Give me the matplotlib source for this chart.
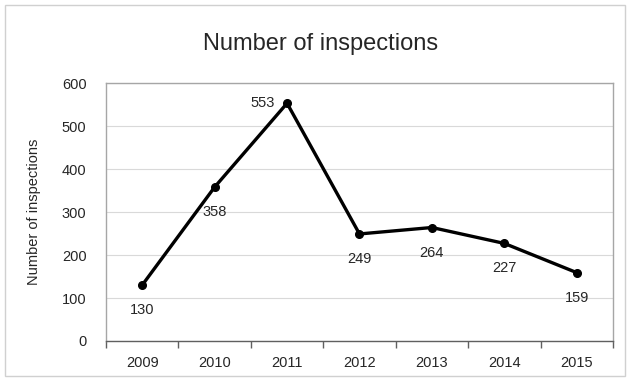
import matplotlib.pyplot as plt
from matplotlib.patches import Rectangle

years = ['2009', '2010', '2011', '2012', '2013', '2014', '2015']
inspections = [130, 358, 553, 249, 264, 227, 159]
y_ticks = [0, 100, 200, 300, 400, 500, 600]

plt.rcParams['font.family'] = ['Liberation Sans', 'DejaVu Sans']
text_color = '#262626'

fig = plt.figure(figsize=(6.29, 3.81), dpi=100)
fig.patches.append(Rectangle((0.008, 0.012), 0.986, 0.975, transform=fig.transFigure,
                             fill=False, edgecolor='#d0d0d0', linewidth=1))
ax = fig.add_axes([0.1685, 0.105, 0.806, 0.677])

x = list(range(len(years)))
ax.plot(x, inspections, 'o-', color='black', linewidth=2.4, markersize=5.5)

# value labels: the peak sits to the left, the rest below the point
for i, v in enumerate(inspections):
    if i == 2:
        ax.annotate(str(v), (i, v), xytext=(-9, 0), textcoords='offset points',
                    ha='right', va='center', fontsize=10.5, color=text_color)
    else:
        ax.annotate(str(v), (i, v), xytext=(0, -13), textcoords='offset points',
                    ha='center', va='top', fontsize=10.5, color=text_color)

ax.set_xlim(-0.5, len(years) - 0.5)
ax.set_ylim(0, 600)
ax.set_yticks(y_ticks)
ax.set_yticklabels([str(t) for t in y_ticks], fontsize=10.5, color=text_color)
ax.set_xticks(x)
ax.set_xticklabels(years, fontsize=10.5, color=text_color)
ax.set_xticks([i - 0.5 for i in range(len(years) + 1)], minor=True)
ax.tick_params(axis='x', which='major', length=0, pad=11)
ax.tick_params(axis='x', which='minor', length=5, color='#606060', width=1)
ax.tick_params(axis='y', length=0, pad=14)

ax.grid(True, axis='y', color='#d9d9d9', linewidth=0.8)
ax.set_axisbelow(True)
for side in ['left', 'top', 'right']:
    ax.spines[side].set_color('#a6a6a6')
    ax.spines[side].set_linewidth(1)
ax.spines['bottom'].set_color('#606060')
ax.spines['bottom'].set_linewidth(1)

ax.set_ylabel('Number of inspections', fontsize=10.5, labelpad=15, color=text_color)
fig.text(0.509, 0.884, 'Number of inspections', ha='center', va='center',
         fontsize=17, color=text_color)

fig.savefig('out.png', dpi=100)
